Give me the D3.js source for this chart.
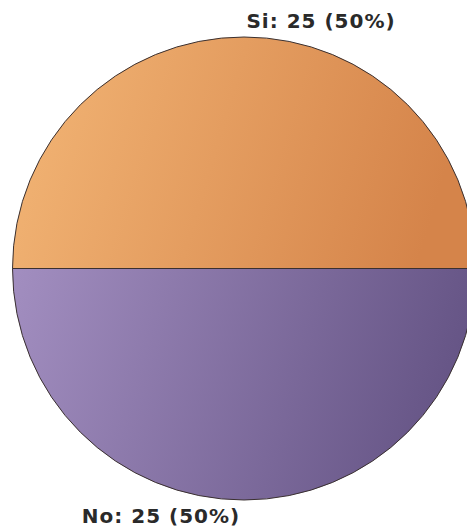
<!DOCTYPE html>
<html><head><meta charset="utf-8">
<script src="https://cdn.jsdelivr.net/npm/d3@7"></script>
<style>html,body{margin:0;padding:0;background:#fff;overflow:hidden}</style>
</head><body>
<svg id="chart" width="467" height="529"></svg>
<script>
const categories = ["Si", "No"];
const values = [25, 25];
const colorsLight = ["#f3b676", "#a28ec0"];
const colorsDark = ["#d5844a", "#665586"];

const svg = d3.select("#chart");
const cx = 244, cy = 268.5, r = 231.5;
const total = d3.sum(values);
const data = categories.map((c, i) => ({ cat: c, value: values[i], i }));

const defs = svg.append("defs");
data.forEach(d => {
  const g = defs.append("linearGradient").attr("id", "grad" + d.i)
    .attr("x1", "0%").attr("y1", "0%").attr("x2", "100%").attr("y2", "15%");
  g.append("stop").attr("offset", "0%").attr("stop-color", colorsLight[d.i]);
  g.append("stop").attr("offset", "100%").attr("stop-color", colorsDark[d.i]);
});

const pie = d3.pie().sort(null).value(d => d.value).startAngle(-Math.PI / 2).endAngle(Math.PI * 1.5);
const arc = d3.arc().innerRadius(0).outerRadius(r);
const arcs = pie(data);

const g = svg.append("g").attr("transform", `translate(${cx},${cy})`);
g.selectAll("path").data(arcs).join("path")
  .attr("d", arc)
  .attr("fill", d => `url(#grad${d.data.i})`)
  .attr("stroke", "#3a3030")
  .attr("stroke-width", 1);

const labelPos = [{ x: 321, y: 28 }, { x: 161, y: 523 }];
svg.selectAll("text.lbl").data(arcs).join("text")
  .attr("class", "lbl")
  .attr("x", (d, i) => labelPos[i].x)
  .attr("y", (d, i) => labelPos[i].y)
  .attr("text-anchor", "middle")
  .attr("font-family", "DejaVu Sans, Verdana, sans-serif")
  .attr("font-weight", "bold")
  .attr("font-size", 20)
  .attr("letter-spacing", 1)
  .attr("fill", "#2a2a2a")
  .text(d => `${d.data.cat}: ${d.data.value} (${Math.round(d.data.value / total * 100)}%)`);
</script>
</body></html>
